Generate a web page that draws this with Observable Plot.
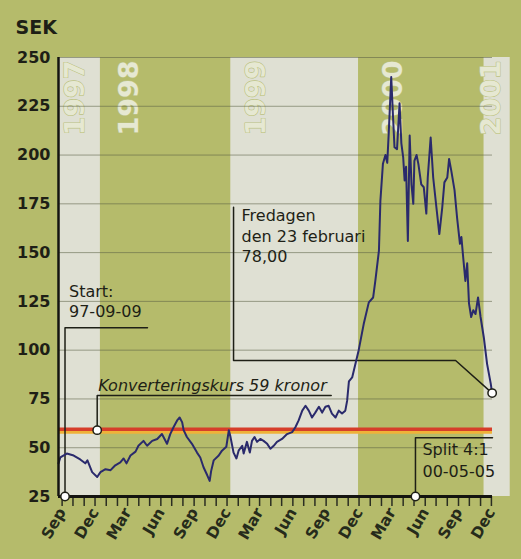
<!DOCTYPE html>
<html>
<head>
<meta charset="utf-8">
<script src="https://cdn.jsdelivr.net/npm/d3@7"></script>
<script src="https://cdn.jsdelivr.net/npm/@observablehq/plot@0.6"></script>
<style>
  html, body { margin: 0; padding: 0; background: #b5bb6b; }
  #chart { width: 521px; height: 559px; overflow: hidden; }
</style>
</head>
<body>
<div id="chart"></div>
<script>
// ---- data ----
const dates = [
  "1997-08-22","1997-08-27","1997-09-14","1997-10-03","1997-10-21","1997-11-04","1997-11-10","1997-11-23","1997-12-07","1997-12-16",
  "1997-12-30","1998-01-13","1998-01-26","1998-02-09","1998-02-18","1998-02-26","1998-03-09","1998-03-23","1998-03-31","1998-04-14",
  "1998-04-24","1998-05-08","1998-05-22","1998-06-04","1998-06-18","1998-06-27","1998-07-06","1998-07-16","1998-07-23","1998-07-30",
  "1998-08-03","1998-08-12","1998-08-26","1998-09-09","1998-09-18","1998-09-27","1998-10-07","1998-10-14","1998-10-18","1998-10-25",
  "1998-11-08","1998-11-17","1998-11-29","1998-12-06","1998-12-10","1998-12-19","1998-12-27","1999-01-02","1999-01-12","1999-01-16",
  "1999-01-25","1999-02-02","1999-02-08","1999-02-15","1999-02-22","1999-03-03","1999-03-12","1999-03-22","1999-03-31","1999-04-09",
  "1999-04-18","1999-05-02","1999-05-16","1999-05-30","1999-06-08","1999-06-17","1999-06-27","1999-07-06","1999-07-15","1999-07-24",
  "1999-08-02","1999-08-12","1999-08-21","1999-08-30","1999-09-08","1999-09-17","1999-09-27","1999-10-06","1999-10-15","1999-10-24",
  "1999-10-29","1999-11-03","1999-11-12","1999-11-30","1999-12-14","1999-12-28","2000-01-09","2000-01-15","2000-01-25","2000-01-29",
  "2000-02-05","2000-02-12","2000-02-17","2000-02-21","2000-02-28","2000-03-04","2000-03-08","2000-03-15","2000-03-22","2000-03-27",
  "2000-04-01","2000-04-05","2000-04-09","2000-04-14","2000-04-19","2000-04-24","2000-04-29","2000-05-02","2000-05-08","2000-05-13",
  "2000-05-21","2000-05-28","2000-06-04","2000-06-08","2000-06-16","2000-06-23","2000-07-02","2000-07-10","2000-07-18","2000-07-24",
  "2000-08-01","2000-08-06","2000-08-12","2000-08-21","2000-08-28","2000-09-05","2000-09-09","2000-09-14","2000-09-20","2000-09-25",
  "2000-09-30","2000-10-06","2000-10-12","2000-10-18","2000-10-25","2000-11-01","2000-11-10","2000-11-19","2000-11-29","2000-12-03"
];
const prices = [
  42, 45, 47, 46, 44, 42, 43.5, 37.5, 35, 37.5,
  39, 38.5, 41, 42.5, 44.5, 42, 46, 48, 51, 53.5,
  51, 53.5, 54.5, 57, 52, 57, 60.5, 64, 65.5, 63,
  59, 55.5, 52, 47.5, 45, 40, 36, 33, 38, 43.5,
  46, 48.5, 50.5, 59, 56, 47.5, 44.5, 48.5, 51, 47,
  53, 47.5, 53.5, 55.5, 53, 54.5, 53.5, 52, 49.5, 51,
  53, 54.5, 57, 58, 60.5, 64, 69, 71.5, 69, 65.5,
  68, 71, 68, 71, 71.5, 67.5, 65.5, 69, 67.5, 69,
  74, 84, 86, 100, 113.5, 124.5, 127, 135.5, 151, 176.5,
  195.5, 200, 196, 211, 240, 219.5, 204, 203, 226.5, 206,
  199, 187, 194, 156, 210, 185, 175, 197, 200, 195.5,
  185, 183.5, 170, 188.5, 209, 188.5, 173, 159.5, 173, 186,
  188.5, 198, 192, 182, 168, 154.5, 158, 147.5, 135.5, 144.5,
  124, 117, 120.5, 118.5, 127, 117, 106.5, 93, 83, 78
];
const conversionPrice = 59;
const yTicks = [25, 50, 75, 100, 125, 150, 175, 200, 225, 250];
const monthNames = ["Jan","Feb","Mar","Apr","May","Jun","Jul","Aug","Sep","Oct","Nov","Dec"];
const yearNames = ["1997", "1998", "1999", "2000", "2001"];
const yearBandStarts = ["1997-08-22", "1997-12-16", "1998-12-11", "1999-11-30", "2000-11-10"];
const yearBandEnds   = ["1997-12-16", "1998-12-11", "1999-11-30", "2000-11-10", "2001-01-22"];
const yearLabelDates = ["1997-10-07", "1998-03-06", "1999-02-20", "2000-03-05", "2000-12-01"];
const startDate = "1997-09-09";
const splitDate = "2000-05-05";

// ---- build ----
const D = s => new Date(s + "T00:00:00Z");
const series = dates.map((d, i) => ({date: D(d), price: prices[i]}));
const last = series[series.length - 1];
const xDomain = [D("1997-08-22"), D("2000-12-04")];

const bands = yearNames.map((name, i) => ({name, start: D(yearBandStarts[i]), end: D(yearBandEnds[i]), label: D(yearLabelDates[i]), i}));
const monthTicks = d3.utcMonths(D("1997-09-01"), D("2000-12-02"));
const labelTicks = monthTicks.filter(d => d.getUTCMonth() % 3 === 2);

const GREEN = "#b5bb6b", LIGHT = "#dfe0d3", INK = "#1e1f16", LINE = "#2a2a6c";
const FONT = "DejaVu Sans";

// annotation geometry (data space)
const startLeader = [{date: D(startDate), v: 25}, {date: D(startDate), v: 111.5}, {date: D("1998-04-25"), v: 111.5}];
const convAnchor = D("1997-12-07");
const convLeader = [{date: convAnchor, v: conversionPrice}, {date: convAnchor, v: 76.8}, {date: D("1999-09-15"), v: 76.8}];
const friLeaderX = D("1998-12-19");
const friLeader = [{date: friLeaderX, v: 173.3}, {date: friLeaderX, v: 94.7}, {date: D("2000-08-24"), v: 94.7}, {date: last.date, v: last.price}];
const splitLeader = [{date: D(splitDate), v: 25}, {date: D(splitDate), v: 55.1}, {date: xDomain[1], v: 55.1}];

const textOpts = {fontFamily: FONT, fontSize: 16, fill: INK, textAnchor: "start", lineAnchor: "bottom"};
const leaderOpts = {x: "date", y: "v", stroke: INK, strokeWidth: 1.5};
const dotOpts = {x: "date", y: "v", r: 4.2, fill: "white", stroke: INK, strokeWidth: 1.5};

const chart = Plot.plot({
  width: 521,
  height: 559,
  marginLeft: 58,
  marginRight: 29,
  marginTop: 57,
  marginBottom: 63,
  style: {background: GREEN, fontFamily: FONT, overflow: "visible"},
  x: {type: "utc", domain: xDomain},
  y: {domain: [25, 250]},
  marks: [
    Plot.rect(bands.filter(b => b.i % 2 === 0), {x1: "start", x2: "end", y1: () => 25, y2: () => 250, fill: LIGHT}),
    Plot.rect(bands.filter(b => b.i % 2 === 1), {x1: "start", x2: "end", y1: () => 25, y2: () => 250, fill: GREEN}),
    Plot.text(bands, {x: "label", y: () => 248.5, text: "name", rotate: -90, textAnchor: "end", lineAnchor: "middle",
      fontFamily: FONT, fontSize: 27, fontWeight: "bold", fill: "#e6e8d2", stroke: "#bcc283", strokeWidth: 1.2}),
    Plot.ruleY(yTicks.filter(t => t > 25), {stroke: "#5a5e44", strokeOpacity: 0.55, strokeWidth: 1}),
    Plot.ruleY([conversionPrice], {stroke: "#efb238", strokeWidth: 3, dy: 2}),
    Plot.ruleY([conversionPrice], {stroke: "#d63e2a", strokeWidth: 3.5, dy: -1}),
    Plot.axisY(yTicks, {tickSize: 0, tickPadding: 8, fontSize: 16, fontWeight: "bold", fill: INK, label: null}),
    Plot.axisX(monthTicks, {tickSize: 10, tickFormat: () => "", stroke: "#2b2e22", strokeWidth: 1.5, label: null}),
    Plot.axisX(labelTicks, {tickSize: 0, tickPadding: 13, tickRotate: -60, tickFormat: d => monthNames[d.getUTCMonth()],
      fontSize: 15.5, fontWeight: "bold", fill: "#262b1b", label: null}),
    Plot.line(startLeader, leaderOpts),
    Plot.line(convLeader, leaderOpts),
    Plot.line(friLeader, leaderOpts),
    Plot.line(splitLeader, leaderOpts),
    Plot.line(series, {x: "date", y: "price", stroke: LINE, strokeWidth: 2}),
    Plot.ruleY([25], {stroke: "#141410", strokeWidth: 3}),
    Plot.ruleX([xDomain[0]], {stroke: "#141410", strokeWidth: 2.5}),
    Plot.dot([{date: D(startDate), v: 25}, {date: convAnchor, v: conversionPrice}, {date: D(splitDate), v: 25}, {date: last.date, v: last.price}], dotOpts),
    Plot.text([{date: D(startDate), v: 116.9, t: "Start:\n97-09-09"}], {...textOpts, x: "date", y: "v", text: "t", dx: 4, lineHeight: 1.25}),
    Plot.text([{date: convAnchor, v: 79, t: "Konverteringskurs 59 kronor"}], {...textOpts, x: "date", y: "v", text: "t", dx: 1, fontStyle: "italic"}),
    Plot.text([{date: friLeaderX, v: 145.1, t: "Fredagen\nden 23 februari\n78,00"}], {...textOpts, x: "date", y: "v", text: "t", dx: 8, lineHeight: 1.28}),
    Plot.text([{date: D(splitDate), v: 34.9, t: "Split 4:1\n00-05-05"}], {...textOpts, x: "date", y: "v", text: "t", dx: 7, lineHeight: 1.36}),
    Plot.text(["SEK"], {frameAnchor: "top-left", dx: -43, dy: -24, fontFamily: FONT, fontSize: 19, fontWeight: "bold", fill: INK, textAnchor: "start", lineAnchor: "bottom"})
  ]
});
document.getElementById("chart").appendChild(chart);
</script>
</body>
</html>
